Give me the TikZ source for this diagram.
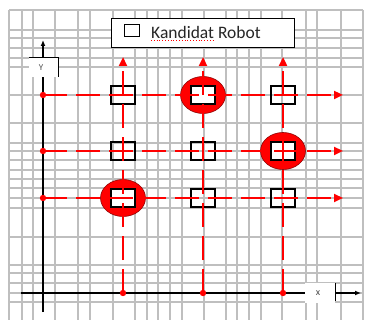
\documentclass[tikz,border=0pt]{standalone}
\usepackage{fontspec}
\setmainfont{Carlito}
\usetikzlibrary{arrows.meta}

\begin{document}
\begin{tikzpicture}[x=1pt,y=-1pt,
  gridline/.style={gray!50,line width=1.1pt},
  redline/.style={red,line width=2.6pt,dash pattern=on 24pt off 9pt,-{Triangle[length=9pt,width=8pt]}},
  reddot/.style={red,fill=red},
  cand/.style={draw=black,line width=1.5pt,minimum width=24pt,minimum height=18pt,inner sep=0pt},
  axis/.style={black,line width=1.2pt}]
\useasboundingbox (0,0) rectangle (369,320);
% background grid
\foreach \x in {9,22,33,55,78,90,113,135,147,158,170,182,204,226,237,249,261,282,306,317,341,363}
  \draw[gridline] (\x,10) -- (\x,320);
\foreach \y in {10,30,38,48,58,67,95,123,143,151,160,170,179,188,198,208,237,265,273,283,293,302}
  \draw[gridline] (9,\y) -- (363,\y);

% legend
\node[draw=black,fill=white,line width=1pt,minimum width=183pt,minimum height=29pt,inner sep=0pt] (legend) at (202.5,33.5) {};
\node[draw=black,line width=1pt,minimum width=15pt,minimum height=12pt,inner sep=0pt] (legbox) at (131.5,31) {};
\node[right,font=\fontsize{17.5}{20}\selectfont,text=black!85,inner sep=0pt] (legtext) at (151,32) {Kandidat Robot};
\draw[red,line width=0.8pt,dotted] (legtext.south west) ++(0,2) -- ++(64,0);

% axes
\coordinate (yfoot) at (43,312);
\coordinate (ytop) at (43,40);
\draw[axis,-{Latex[length=6pt,width=5pt]}] (yfoot) -- (ytop);
\fill[white] (29,58) rectangle (58,77);
\draw[line width=1pt] (29,58) -- (58,58) -- (58,77);
\node[font=\fontsize{9}{10}\selectfont,text=black!70] (ylab) at (41,68) {Y};
\coordinate (xfoot) at (21,293);
\coordinate (xend) at (305,293);
\draw[axis] (xfoot) -- (xend);
\fill[white] (305,283) rectangle (335,303);
\node[font=\fontsize{10}{11}\selectfont,text=black!70] (xlab) at (318,293) {x};
\coordinate (xbar) at (335,293);
\coordinate (xtip) at (361,293);
\draw[line width=1pt] (335,283) -- (335,301);
\draw[axis,-{Latex[length=6pt,width=5pt]}] (xbar) -- (xtip);

% robot positions (filled ellipses)
\foreach \cx/\cy in {203/95,283/151,123/198}
  \filldraw[fill=red,draw=red!55!black,line width=0.6pt] (\cx,\cy) ellipse (22.5 and 18.5);

% candidate boxes
\foreach \i/\cx in {1/123,2/203,3/283}
  \foreach \j/\cy in {1/95,2/151,3/198}
    \node[cand] (c\i\j) at (\cx,\cy) {};
\foreach \n in {c21,c32,c13}
  \node[cand,fill=white] at (\n) {};

% dashed paths
\foreach \j/\cy in {1/95,2/151,3/198} {
  \coordinate (hs\j) at (43,\cy);
  \coordinate (he\j) at (343,\cy);
  \draw[redline] (hs\j) -- (he\j);
  \fill[reddot] (hs\j) circle (3.2);
}
\foreach \i/\cx in {1/123,2/203,3/283} {
  \coordinate (vs\i) at (\cx,293);
  \coordinate (ve\i) at (\cx,57);
  \draw[redline] (vs\i) -- (ve\i);
  \fill[reddot] (vs\i) circle (3.2);
}
\end{tikzpicture}
\end{document}
